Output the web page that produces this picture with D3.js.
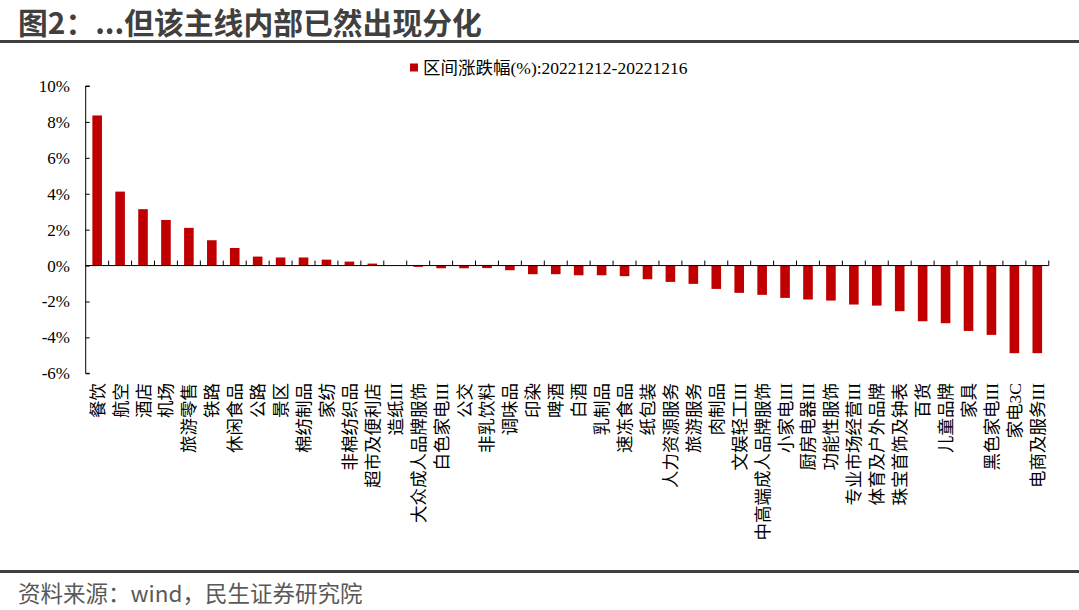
<!DOCTYPE html>
<html>
<head>
<meta charset="utf-8">
<script src="https://cdn.jsdelivr.net/npm/d3@7"></script>
<style>
  html, body { margin: 0; padding: 0; background: #fff; }
  svg { display: block; }
</style>
</head>
<body>
<script>
const categories = ["餐饮","航空","酒店","机场","旅游零售","铁路","休闲食品","公路","景区","棉纺制品","家纺","非棉纺织品","超市及便利店","造纸III","大众成人品牌服饰","白色家电III","公交","非乳饮料","调味品","印染","啤酒","白酒","乳制品","速冻食品","纸包装","人力资源服务","旅游服务","肉制品","文娱轻工III","中高端成人品牌服饰","小家电III","厨房电器III","功能性服饰","专业市场经营III","体育及户外品牌","珠宝首饰及钟表","百货","儿童品牌","家具","黑色家电III","家电3C","电商及服务III"];
const values = [8.36,4.12,3.14,2.54,2.10,1.41,0.98,0.50,0.45,0.45,0.33,0.22,0.11,0.01,-0.07,-0.15,-0.15,-0.14,-0.26,-0.48,-0.48,-0.54,-0.54,-0.59,-0.76,-0.91,-1.02,-1.30,-1.52,-1.63,-1.80,-1.89,-1.95,-2.17,-2.23,-2.54,-3.10,-3.21,-3.64,-3.86,-4.88,-4.88];
const yTicks = [-6,-4,-2,0,2,4,6,8,10];
const seriesName = "区间涨跌幅(%):20221212-20221216";
const titleText = "图2：...但该主线内部已然出现分化";
const sourceText = "资料来源：wind，民生证券研究院";

const W = 1079, H = 610;
const svg = d3.select("body").append("svg").attr("width", W).attr("height", H);
const serif = "'Liberation Serif','Times New Roman','Noto Sans CJK SC',serif";
const sans = "'Noto Sans CJK SC','Noto Sans',sans-serif";

// Title
svg.append("text").attr("x", 18).attr("y", 34)
  .attr("font-family", sans).attr("font-weight", "bold").attr("font-size", 29.8)
  .attr("fill", "#404040").text(titleText);
svg.append("rect").attr("x", 0).attr("y", 40).attr("width", W).attr("height", 3).attr("fill", "#404040");
svg.append("rect").attr("x", 0).attr("y", 570).attr("width", W).attr("height", 3).attr("fill", "#404040");
svg.append("text").attr("x", 18).attr("y", 602)
  .attr("font-family", sans).attr("font-size", 22.5)
  .attr("fill", "#595959").text(sourceText);

const x0 = 85.7, step = 22.93;
const x = d3.scaleBand().domain(categories).range([x0, x0 + step * categories.length]).padding(0);
const y = d3.scaleLinear().domain([-6, 10]).range([373.3, 86]);

// Bars
const bw = 9.6;
svg.append("g").selectAll("rect").data(values).join("rect")
  .attr("x", (d, i) => x(categories[i]) + (x.bandwidth() - bw) / 2)
  .attr("y", d => y(Math.max(0, d)))
  .attr("width", bw)
  .attr("height", d => Math.abs(y(d) - y(0)))
  .attr("fill", "#C00000");

// Y axis
const yAxis = d3.axisRight(y).tickValues(yTicks).tickSize(4).tickFormat("");
const gy = svg.append("g").attr("transform", `translate(${x0},0)`).call(yAxis);
gy.selectAll("path, line").attr("stroke", "#000").attr("stroke-width", 1);
gy.select(".domain").attr("d", `M4,${y(10)}H0V${y(-6)}H4`);
svg.append("g").selectAll("text").data(yTicks).join("text")
  .attr("x", 70).attr("y", d => y(d)).attr("dy", "0.35em")
  .attr("text-anchor", "end").attr("font-family", serif).attr("font-size", 17)
  .attr("fill", "#000").text(d => d + "%");

// X axis (zero line) with ticks between categories pointing up
const y0 = y(0);
svg.append("line").attr("x1", x0).attr("x2", x0 + step * categories.length)
  .attr("y1", y0).attr("y2", y0).attr("stroke", "#000");
const boundaries = categories.map(c => x(c) + x.bandwidth());
svg.append("g").selectAll("line").data(boundaries).join("line")
  .attr("x1", d => d).attr("x2", d => d).attr("y1", y0).attr("y2", y0 - 5)
  .attr("stroke", "#000");

// Category labels (rotated)
svg.append("g").selectAll("text").data(categories).join("text")
  .attr("transform", d => `translate(${x(d) + x.bandwidth() / 2 + 6.5},383) rotate(-90)`)
  .attr("text-anchor", "end").attr("font-family", serif).attr("font-size", 17.5)
  .attr("fill", "#000").text(d => d);

// Legend
svg.append("rect").attr("x", 410).attr("y", 63.5).attr("width", 8).attr("height", 8).attr("fill", "#C00000");
svg.append("text").attr("x", 423).attr("y", 73.5).attr("font-family", serif).attr("font-size", 17.5)
  .attr("fill", "#000").text(seriesName);
</script>
</body>
</html>
